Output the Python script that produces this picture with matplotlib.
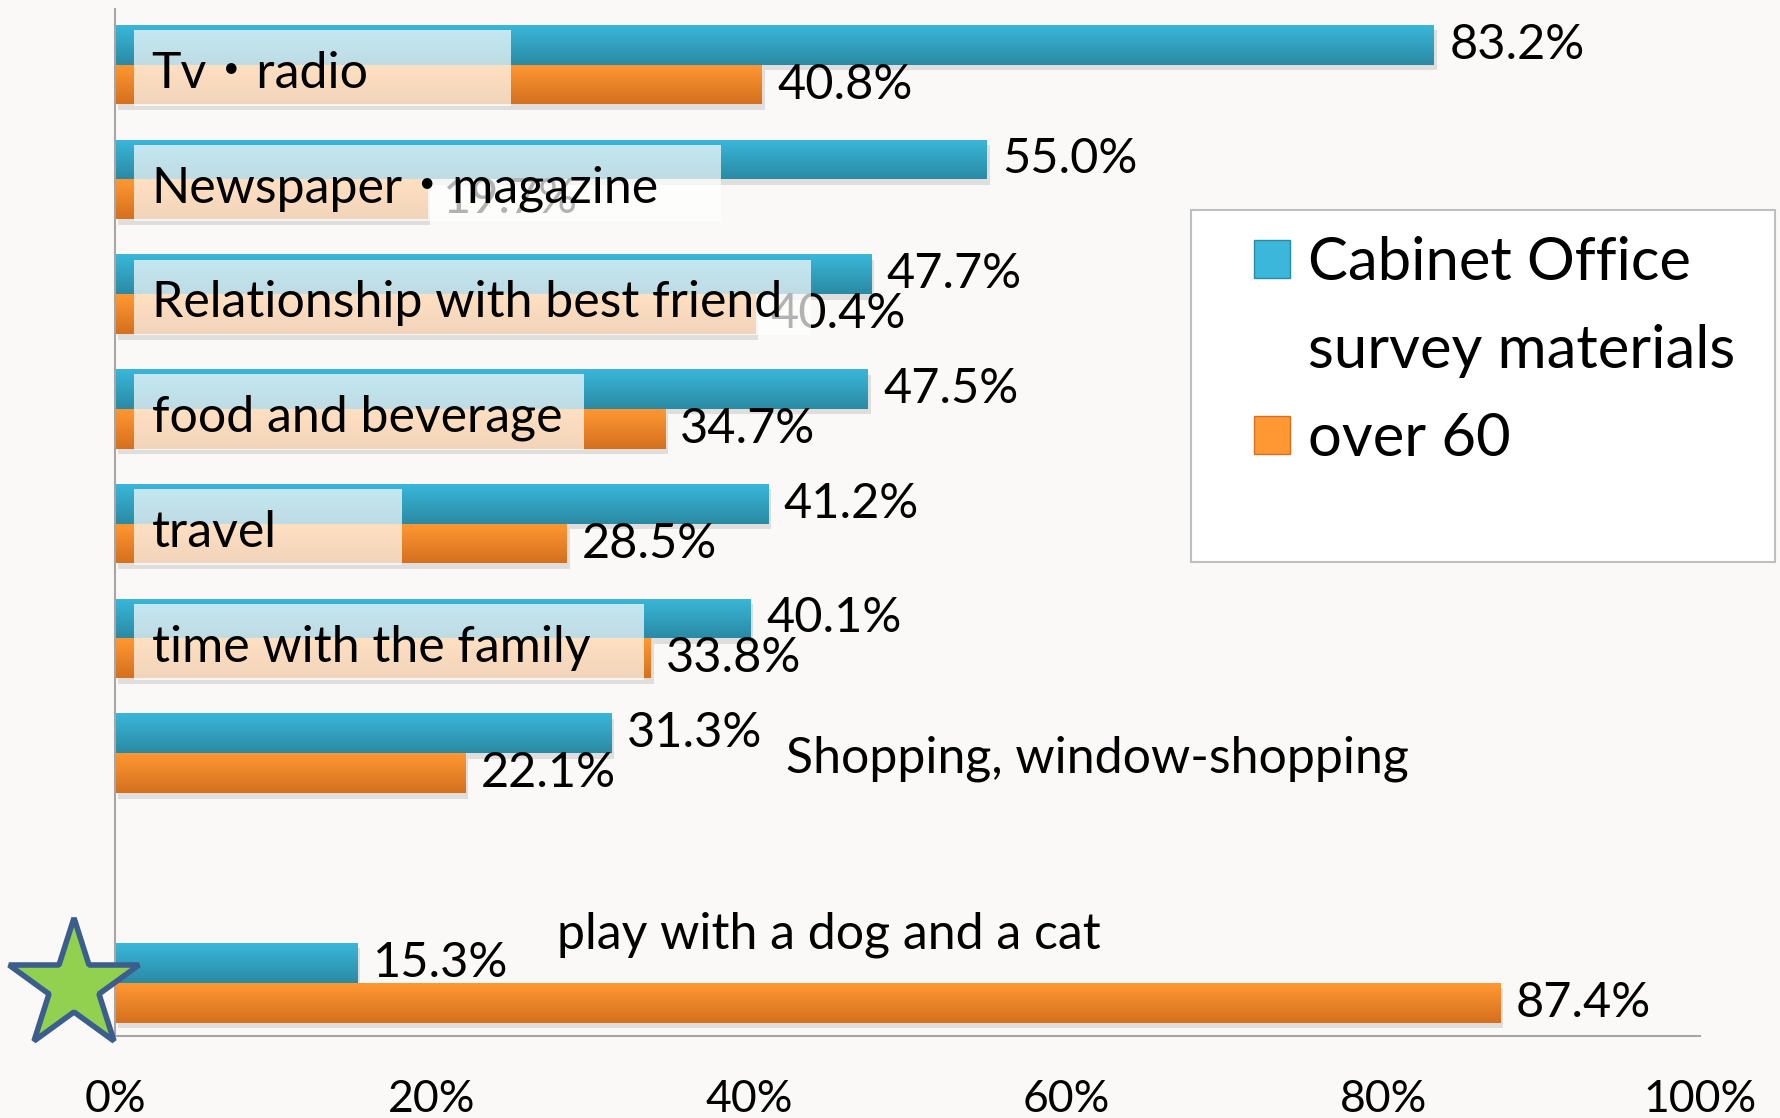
import matplotlib
matplotlib.use("Agg")
import matplotlib.pyplot as plt
import numpy as np
from matplotlib.patches import Patch, Rectangle
from matplotlib.colors import LinearSegmentedColormap
from matplotlib.transforms import ScaledTranslation
import matplotlib.patheffects as pe

# data
categories = ["Tv・radio", "Newspaper・magazine", "Relationship with best friend",
              "food and beverage", "travel", "time with the family",
              "Shopping, window-shopping", "play with a dog and a cat"]
cabinet = [83.2, 55.0, 47.7, 47.5, 41.2, 40.1, 31.3, 15.3]
over60 = [40.8, 19.7, 40.4, 34.7, 28.5, 33.8, 22.1, 87.4]
series_names = ["Cabinet Office\nsurvey materials", "over 60"]
xticks = [0, 20, 40, 60, 80, 100]

# label box right edges (percent units), only first six rows have boxes
box_right = [25.0, 38.2, 43.9, 29.6, 18.1, 33.4]

FONT = ["Lato", "Noto Sans CJK JP", "DejaVu Sans"]
plt.rcParams["font.family"] = FONT
FS_LABEL = 36
FS_VALUE = 35
FS_TICK = 32
FS_LEG = 43
BG = "#FAF9F7"
BLUE_TOP, BLUE_BOT = "#3AB7DA", "#2A8AA4"
ORANGE_TOP, ORANGE_BOT = "#FF9832", "#D4701F"

fig = plt.figure(figsize=(17.81, 11.18), dpi=100, facecolor=BG)
ax = fig.add_axes([0.0646, 0.0733, 0.89, 0.9187], facecolor=BG)

pos = np.arange(len(categories), dtype=float)
pos[-1] += 1  # empty slot before the last row
h = 0.347

shadow = [pe.SimplePatchShadow(offset=(2, -4), shadow_rgbFace="#909090", alpha=0.25), pe.Normal()]
b1 = ax.barh(pos - h / 2, cabinet, height=h, color=BLUE_TOP, zorder=2)
b2 = ax.barh(pos + h / 2, over60, height=h, color=ORANGE_TOP, zorder=2)

# gradient fill clipped to each bar
for bars, c0, c1 in [(b1, BLUE_TOP, BLUE_BOT), (b2, ORANGE_TOP, ORANGE_BOT)]:
    cmap = LinearSegmentedColormap.from_list("g", [c0, c1])
    grad = np.linspace(0, 1, 64).reshape(-1, 1)
    for r in bars:
        r.set_path_effects(shadow)
        x0, y0 = r.get_x(), r.get_y()
        w, hh = r.get_width(), r.get_height()
        im = ax.imshow(grad, cmap=cmap, aspect="auto", origin="upper",
                       extent=[x0, x0 + w, y0 + hh, y0], zorder=2.1)
        im.set_clip_path(r)

# value labels
for p, v in zip(pos, cabinet):
    ax.annotate(f"{v:.1f}%", xy=(v, p - h / 2), xytext=(11, 0), textcoords="offset points",
                va="center", ha="left", fontsize=FS_VALUE, zorder=3)
for p, v in zip(pos, over60):
    ax.annotate(f"{v:.1f}%", xy=(v, p + h / 2), xytext=(11, 0), textcoords="offset points",
                va="center", ha="left", fontsize=FS_VALUE, zorder=3)

# category labels in translucent boxes
for i, right in enumerate(box_right):
    ax.add_patch(Rectangle((1.2, pos[i] - 0.30), right - 1.2, 0.66,
                           facecolor="white", alpha=0.7, edgecolor="none", zorder=4))
    ax.text(2.3, pos[i] + 0.08, categories[i], fontsize=FS_LABEL, va="center", ha="left", zorder=5)

ax.text(42.3, pos[6] + 0.05, categories[6], fontsize=FS_LABEL, va="center", ha="left", zorder=5)
ax.text(27.9, pos[7] - 0.42, categories[7], fontsize=FS_LABEL, va="center", ha="left", zorder=5)

# star marker next to the last row
star_tr = ax.transData + ScaledTranslation(-0.41, -0.03, fig.dpi_scale_trans)
ax.plot([0], [pos[-1]], marker="*", markersize=98, markerfacecolor="#92D050",
        markeredgecolor="#3B5E8C", markeredgewidth=4, transform=star_tr,
        clip_on=False, zorder=6, linestyle="none")

ax.set_xlim(0, 100)
ax.set_ylim(pos[-1] + 0.465, -0.485)
ax.set_xticks(xticks)
ax.set_xticklabels([f"{t}%" for t in xticks], fontsize=FS_TICK)
ax.set_yticks([])
ax.tick_params(axis="x", length=0, pad=31)
for s in ["top", "right"]:
    ax.spines[s].set_visible(False)
for s in ["left", "bottom"]:
    ax.spines[s].set_color("#A6A6A6")
    ax.spines[s].set_linewidth(1.5)

# legend: frame drawn separately, entries from a frameless legend
fig.add_artist(Rectangle((1191 / 1781, 1 - 562 / 1118), 584 / 1781, 352 / 1118,
                         transform=fig.transFigure, facecolor="white",
                         edgecolor="#BFBFBF", linewidth=1.5, zorder=9))
lines = series_names[0].split("\n")
handles = [Patch(facecolor=BLUE_TOP, edgecolor=BLUE_BOT), Patch(alpha=0),
           Patch(facecolor=ORANGE_TOP, edgecolor=ORANGE_BOT)]
labels = [lines[0], lines[1], series_names[1]]
leg = fig.legend(handles, labels, loc="upper left", bbox_to_anchor=(1254 / 1781, 1 - 236 / 1118),
                 fontsize=FS_LEG, frameon=False, borderpad=0,
                 handlelength=0.6, handleheight=0.6, handletextpad=0.3, labelspacing=0.57,
                 borderaxespad=0)
leg.set_zorder(10)

fig.savefig("out.png", dpi=100, facecolor=BG)
